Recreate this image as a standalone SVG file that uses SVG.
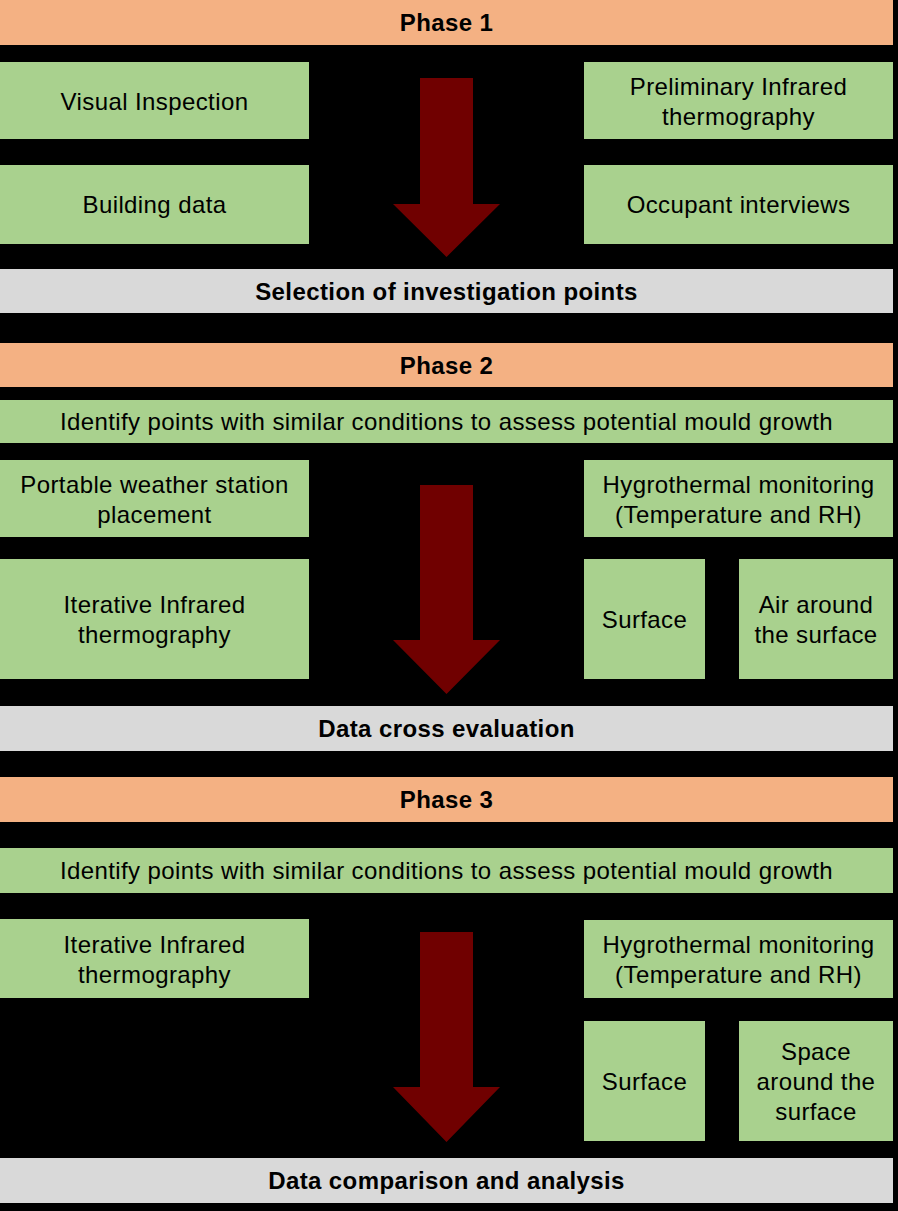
<svg xmlns="http://www.w3.org/2000/svg" width="898" height="1211" viewBox="0 0 898 1211">
<style>
.ph{fill:#F4B183}
.gr{fill:#A9D18E}
.gy{fill:#D9D9D9}
text{font-family:"Liberation Sans",Arial,sans-serif;font-size:24px;fill:#000;text-anchor:middle;letter-spacing:0.4px}
.b{font-weight:bold}
.arr{fill:#700000}
</style>
<rect x="0" y="0" width="898" height="1211" fill="#000"/>
<g id="phase1"><rect class="ph" x="0" y="0" width="893" height="45"/><text class="b" x="446.5" y="31">Phase 1</text></g>
<g id="visual"><rect class="gr" x="0" y="62" width="309" height="77"/><text x="154.5" y="109.5">Visual Inspection</text></g>
<g id="prelim"><rect class="gr" x="584" y="62" width="309" height="77"/><text x="738.5" y="95">Preliminary Infrared</text><text x="738.5" y="125">thermography</text></g>
<g id="building"><rect class="gr" x="0" y="165" width="309" height="79"/><text x="154.5" y="213">Building data</text></g>
<g id="occupant"><rect class="gr" x="584" y="165" width="309" height="79"/><text x="738.5" y="213">Occupant interviews</text></g>
<g id="selection"><rect class="gy" x="0" y="269" width="893" height="44"/><text class="b" x="446.5" y="300">Selection of investigation points</text></g>

<g id="phase2"><rect class="ph" x="0" y="343" width="893" height="44"/><text class="b" x="446.5" y="374">Phase 2</text></g>
<g id="identify2"><rect class="gr" x="0" y="400" width="893" height="43"/><text x="446.5" y="430">Identify points with similar conditions to assess potential mould growth</text></g>
<g id="weather"><rect class="gr" x="0" y="460" width="309" height="77"/><text x="154.5" y="493">Portable weather station</text><text x="154.5" y="523">placement</text></g>
<g id="hygro2"><rect class="gr" x="584" y="460" width="309" height="77"/><text x="738.5" y="493">Hygrothermal monitoring</text><text x="738.5" y="523">(Temperature and RH)</text></g>
<g id="iter2"><rect class="gr" x="0" y="559" width="309" height="120"/><text x="154.5" y="613">Iterative Infrared</text><text x="154.5" y="643">thermography</text></g>
<g id="surface2"><rect class="gr" x="584" y="559" width="121" height="120"/><text x="644.5" y="628">Surface</text></g>
<g id="air2"><rect class="gr" x="739" y="559" width="154" height="120"/><text x="816" y="613">Air around</text><text x="816" y="643">the surface</text></g>
<g id="crosseval"><rect class="gy" x="0" y="706" width="893" height="45"/><text class="b" x="446.5" y="737">Data cross evaluation</text></g>

<g id="phase3"><rect class="ph" x="0" y="777" width="893" height="45"/><text class="b" x="446.5" y="808">Phase 3</text></g>
<g id="identify3"><rect class="gr" x="0" y="848" width="893" height="45"/><text x="446.5" y="879">Identify points with similar conditions to assess potential mould growth</text></g>
<g id="iter3"><rect class="gr" x="0" y="919" width="309" height="79"/><text x="154.5" y="953">Iterative Infrared</text><text x="154.5" y="983">thermography</text></g>
<g id="hygro3"><rect class="gr" x="584" y="920" width="309" height="78"/><text x="738.5" y="953">Hygrothermal monitoring</text><text x="738.5" y="983">(Temperature and RH)</text></g>
<g id="surface3"><rect class="gr" x="584" y="1021" width="121" height="120"/><text x="644.5" y="1090">Surface</text></g>
<g id="space3"><rect class="gr" x="739" y="1021" width="154" height="120"/><text x="816" y="1060">Space</text><text x="816" y="1090">around the</text><text x="816" y="1120">surface</text></g>
<g id="comparison"><rect class="gy" x="0" y="1158" width="893" height="45"/><text class="b" x="446.5" y="1189">Data comparison and analysis</text></g>

<g id="connectors">
<polygon class="arr" points="420,78 473,78 473,204 500,204 446.5,257 393,204 420,204"/>
<polygon class="arr" points="420,485 473,485 473,640 500,640 446.5,694 393,640 420,640"/>
<polygon class="arr" points="420,932 473,932 473,1087 500,1087 446.5,1142 393,1087 420,1087"/>
</g>
</svg>
